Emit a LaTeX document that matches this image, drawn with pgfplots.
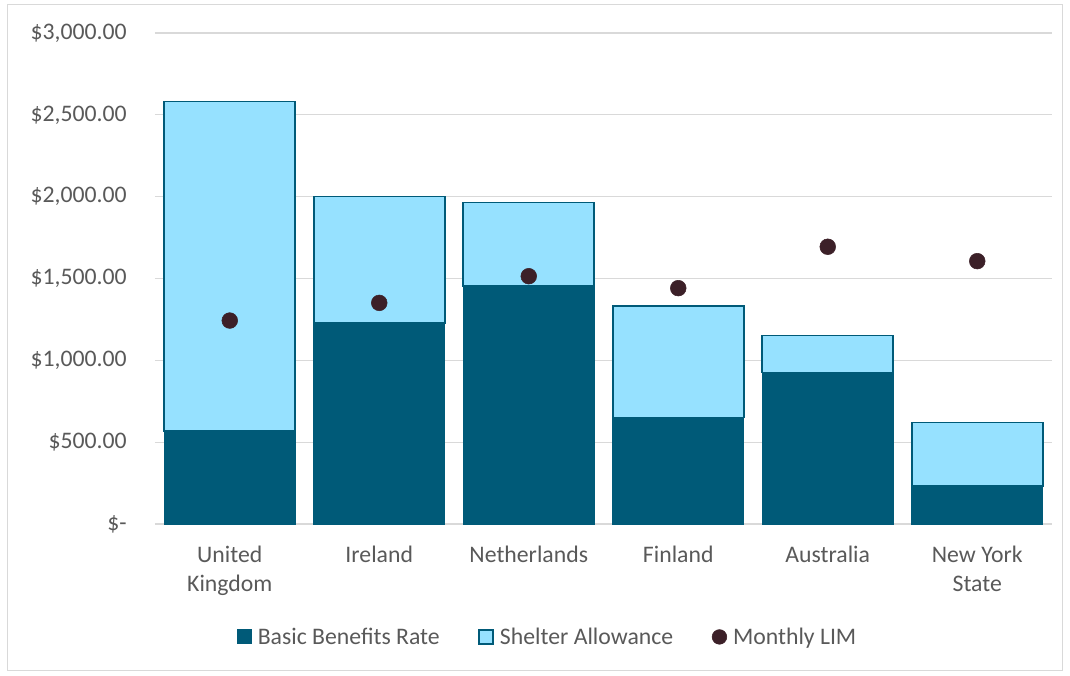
\documentclass[border=0pt]{standalone}
\usepackage{fontspec}
\setmainfont{Carlito}
\usepackage{pgfplots}
\pgfplotsset{compat=1.18}
\definecolor{basic}{HTML}{005A78}
\definecolor{shelter}{HTML}{96E1FF}
\definecolor{lim}{HTML}{3C2028}
\definecolor{gridc}{HTML}{D9D9D9}
\definecolor{txt}{HTML}{595959}
\pgfplotsset{sqlegend/.style={legend image code/.code={\draw[##1] (0pt,-5.25pt) rectangle (10.5pt,5.25pt);}}}
\begin{document}
\begin{tikzpicture}[font=\fontsize{17.8}{21.75}\selectfont]
\useasboundingbox (-116.25pt,-113.25pt) rectangle (686.25pt,393pt);
\draw[gridc, line width=0.75pt] (-110.25pt,-109.5pt) rectangle (680.25pt,389.25pt);
\begin{axis}[
  at={(0,0)}, anchor=south west,
  scale only axis, width=672.75pt, height=368.25pt,
  xmin=-0.5, xmax=5.5, ymin=0, ymax=3000,
  ybar stacked, bar width=98.25pt,
  xtick={0,1,2,3,4,5},
  xticklabels={United\\Kingdom, Ireland, Netherlands, Finland, Australia, New York\\State},
  x tick label style={align=center, anchor=north, yshift=-13pt, text=txt, font=\fontsize{17.8}{21.75}\selectfont},
  ytick={0,500,1000,1500,2000,2500,3000},
  yticklabels={\$-\hspace{5pt}, \$500.00, \$1{,}000.00, \$1{,}500.00, \$2{,}000.00, \$2{,}500.00, \$3{,}000.00},
  y tick label style={anchor=east, inner sep=0pt, xshift=-21pt, text=txt, font=\fontsize{17.8}{21.75}\selectfont},
  major tick length=0pt,
  axis line style={draw=none},
  ymajorgrids, grid style={gridc, line width=0.9pt},
  legend columns=3,
  legend style={at={(0.438,-0.230)}, anchor=center, draw=none, fill=none,
    font=\fontsize{17.8}{20}\selectfont, text=txt,
    /tikz/every odd column/.append style={column sep=2.5pt},
    /tikz/every even column/.append style={column sep=27pt}},
  legend cell align=left,
]
\addplot[fill=basic, draw=basic, line width=0.8pt, sqlegend]
  coordinates {(0,570) (1,1229) (2,1453) (3,651) (4,926) (5,231)};
\addplot[fill=shelter, draw=basic, line width=1.2pt, sqlegend]
  coordinates {(0,2012) (1,773) (2,512) (3,680) (4,225) (5,389)};
\addlegendimage{legend image code/.code={\fill[lim] (5.25pt,0pt) circle (5.5pt);}}
\legend{Basic Benefits Rate, Shelter Allowance, Monthly LIM}
\end{axis}
\begin{axis}[
  at={(0,0)}, anchor=south west,
  scale only axis, width=672.75pt, height=368.25pt,
  xmin=-0.5, xmax=5.5, ymin=0, ymax=3000,
  hide axis,
]
\addplot[only marks, mark=*, mark size=5.9pt, mark options={fill=lim, draw=lim}]
  coordinates {(0,1243) (1,1351) (2,1514) (3,1441) (4,1694) (5,1606)};
\end{axis}
\end{tikzpicture}
\end{document}
